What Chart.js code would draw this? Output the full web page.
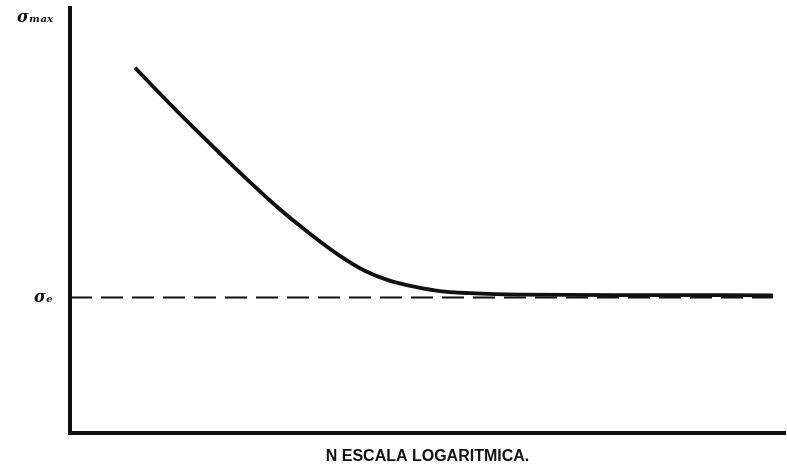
<!DOCTYPE html>
<html>
<head>
<meta charset="utf-8">
<script src="https://cdn.jsdelivr.net/npm/chart.js@4/dist/chart.umd.min.js"></script>
<style>
  html, body { margin: 0; padding: 0; background: #fff; }
  #wrap { width: 787px; height: 466px; }
</style>
</head>
<body>
<div id="wrap"><canvas id="c"></canvas></div>
<script>
// Fatigue curve: stress amplitude vs. number of cycles (log scale, unitless)
const cycles = [9.1, 14.0, 18.9, 23.8, 28.7, 33.6, 37.8, 41.3, 44.8, 48.3, 51.7, 55.9, 62.9, 80.0, 98.3];
const stress = [85.9, 77.4, 69.2, 61.2, 53.6, 46.8, 41.6, 38.1, 35.8, 34.4, 33.4, 32.9, 32.55, 32.45, 32.4];

// Endurance limit and reference levels on the stress axis
const enduranceLimit = 31.9;
const stressMaxLevel = 97.8;
const yTickValues = [enduranceLimit, stressMaxLevel];
const yTickLabels = ['σₑ', 'σₘₐₓ'];
const xAxisTitle = 'N ESCALA LOGARITMICA.';

const curve = cycles.map((x, i) => ({ x, y: stress[i] }));
const limitLine = [{ x: 0, y: enduranceLimit }, { x: 98.3, y: enduranceLimit }];

new Chart(document.getElementById('c'), {
  type: 'line',
  data: {
    datasets: [
      {
        data: limitLine,
        borderColor: '#111',
        borderWidth: 2,
        borderDash: [22, 9],
        pointRadius: 0,
        fill: false
      },
      {
        data: curve,
        borderColor: '#111',
        borderWidth: 3.8,
        pointRadius: 0,
        cubicInterpolationMode: 'monotone',
        fill: false
      }
    ]
  },
  options: {
    responsive: true,
    maintainAspectRatio: false,
    animation: false,
    layout: { autoPadding: false, padding: { top: 8, right: 2, left: 0, bottom: 0 } },
    plugins: { legend: { display: false }, tooltip: { enabled: false } },
    scales: {
      x: {
        type: 'linear',
        min: 0,
        max: 100,
        grid: { display: false },
        border: { display: true, color: '#111', width: 4 },
        ticks: { display: false },
        title: {
          display: true,
          text: xAxisTitle,
          color: '#111',
          font: { family: 'Liberation Sans', size: 16, weight: 'bold' },
          padding: { top: 14, bottom: 0 }
        },
        afterFit: (s) => { s.height = 33; }
      },
      y: {
        min: 0,
        max: 100,
        grid: { display: false },
        border: { display: true, color: '#111', width: 4 },
        afterBuildTicks: (s) => { s.ticks = yTickValues.map(v => ({ value: v })); },
        ticks: {
          color: '#111',
          padding: 9,
          font: { family: 'DejaVu Serif', size: 16, style: 'italic', weight: 'bold' },
          callback: (v) => {
            const i = yTickValues.indexOf(v);
            return i >= 0 ? yTickLabels[i] : '';
          }
        },
        afterFit: (s) => {
          s.width = 70;
          s.paddingTop = 0;
          s.paddingBottom = 0;
        }
      }
    }
  }
});
</script>
</body>
</html>
